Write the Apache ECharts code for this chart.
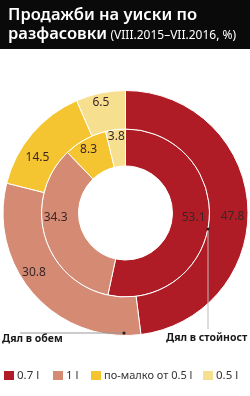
<!DOCTYPE html>
<html><head><meta charset="utf-8">
<script src="https://cdn.jsdelivr.net/npm/echarts@6/dist/echarts.min.js"></script>
<style>html,body{margin:0;padding:0;background:#fff}#c{width:250px;height:396px}</style>
</head><body><div id="c"></div>
<script>
const categories = ['0.7 l', '1 l', 'по-малко от 0.5 l', '0.5 l'];
const volumeShare = [53.1, 34.3, 8.3, 3.8];   // inner ring: Дял в обем
const valueShare = [47.8, 30.8, 14.5, 6.5];   // outer ring: Дял в стойност
const colors = ['#B01C25', '#D48A73', '#F4C530', '#F7DF90'];

const innerOffsets = [[0, -3], [-4, -14], [-4, -3], [-1, -8]];
const outerOffsets = [[1, 10], [-12, -11], [-7, 13], [-3, -6]];
const legendLefts = [2, 51, 89, 201];

const chart = echarts.init(document.getElementById('c'), null, {renderer: 'canvas'});
const font = 'Noto Sans';
function mk(vals) {
  return vals.map((v, i) => ({name: categories[i], value: v, itemStyle: {color: colors[i]}}));
}
const labelStyle = {show: true, position: 'inside', formatter: p => p.value.toFixed(1),
  color: '#3a2626', fontSize: 12, fontFamily: font};
chart.setOption({
  animation: false,
  legend: categories.map((c, i) => ({
    left: legendLefts[i], top: 369, padding: 0, itemWidth: 12, itemHeight: 11,
    icon: 'rect', selectedMode: false,
    textStyle: {color: '#333', fontSize: i === 2 ? 11 : 11.5, fontFamily: font, padding: [0, 0, 0, -3]},
    data: [c]
  })),
  series: [
    {type: 'pie', center: [125.5, 213], radius: [47, 84], startAngle: 90, clockwise: true,
     data: mk(volumeShare), label: labelStyle, labelLine: {show: false},
     itemStyle: {borderColor: '#fff', borderWidth: 1}, emphasis: {disabled: true},
     labelLayout: p => ({dx: innerOffsets[p.dataIndex][0], dy: innerOffsets[p.dataIndex][1]})},
    {type: 'pie', center: [125.5, 213], radius: [84, 122.5], startAngle: 90, clockwise: true,
     data: mk(valueShare), label: labelStyle, labelLine: {show: false},
     itemStyle: {borderColor: '#fff', borderWidth: 1}, emphasis: {disabled: true},
     labelLayout: p => ({dx: outerOffsets[p.dataIndex][0], dy: outerOffsets[p.dataIndex][1]})}
  ],
  graphic: [
    {type: 'rect', shape: {x: 0, y: 0, width: 250, height: 49}, style: {fill: '#0a0a0a'}, z: 0},
    {type: 'text', left: 8, top: 7, z: 1, style: {text: 'Продажби на уиски по', fill: '#fff',
      font: '600 16.5px "Noto Sans"'}},
    {type: 'text', left: 8, top: 26, z: 1, style: {
      text: '{a|разфасовки} {b|(VIII.2015–VII.2016, %)}',
      rich: {a: {fill: '#fff', font: '600 16.5px "Noto Sans"'}, b: {fill: '#fff', font: '12px "Noto Sans"', padding: [2, 0, 0, 0]}}}},
    // annotation: Дял в обем
    {type: 'line', shape: {x1: 20, y1: 333, x2: 124, y2: 333}, style: {stroke: '#999', lineWidth: 1}, z: 5},
    {type: 'circle', shape: {cx: 124, cy: 333, r: 1.6}, style: {fill: '#222'}, z: 6},
    {type: 'text', left: 2, top: 334, z: 5, style: {text: 'Дял в обем', fill: '#1a1a1a', font: 'bold 10.5px "Noto Sans"'}},
    // annotation: Дял в стойност
    {type: 'line', shape: {x1: 208, y1: 229, x2: 208, y2: 329}, style: {stroke: '#bbb', lineWidth: 1}, z: 5},
    {type: 'circle', shape: {cx: 208, cy: 229, r: 1.6}, style: {fill: '#222'}, z: 6},
    {type: 'text', left: 166, top: 333, z: 5, style: {text: 'Дял в стойност', fill: '#1a1a1a', font: 'bold 10.5px "Noto Sans"'}}
  ]
});
</script></body></html>
